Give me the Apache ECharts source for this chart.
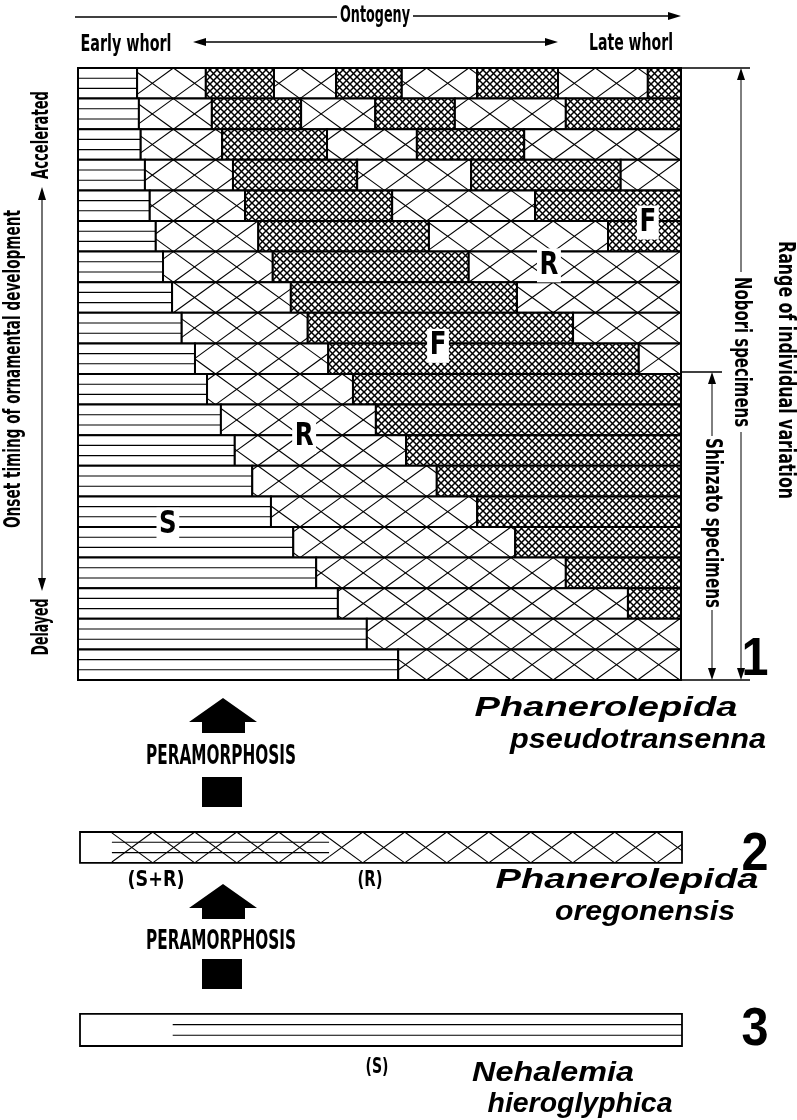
<!DOCTYPE html>
<html>
<head>
<meta charset="utf-8">
<script src="https://cdn.jsdelivr.net/npm/echarts@6/dist/echarts.min.js"></script>
<style>
html, body { margin: 0; padding: 0; background: #fff; }
#chart { width: 797px; height: 1120px; }
</style>
</head>
<body>
<div id="chart"></div>
<script>
// ontogeny runs 0 (early whorl) .. 100 (late whorl)
// each row: where the ornament changes. segments go S, R, F, R, F ...
const rowBreaks = [
    [9.8, 21.2, 32.5, 42.8, 53.7, 66.2, 79.6, 94.5],
    [10.1, 22.2, 37.0, 49.3, 62.5, 80.9],
    [10.4, 23.9, 41.3, 56.2, 74.0],
    [11.1, 25.7, 46.3, 65.2, 90.0],
    [11.9, 27.7, 52.1, 75.8],
    [12.9, 29.9, 58.2, 87.9],
    [14.1, 32.3, 64.8],
    [15.6, 35.3, 72.8],
    [17.2, 38.1, 82.1],
    [19.4, 41.5, 93.0],
    [21.4, 45.6],
    [23.7, 49.4],
    [26.0, 54.4],
    [28.9, 59.5],
    [32.0, 66.2],
    [35.7, 72.5],
    [39.5, 80.9],
    [43.1, 91.2],
    [47.9],
    [53.1]
];
const rowCount = 20;

// letters written over the stack
const letterText = ['F', 'R', 'F', 'R', 'S'];
const letterX = [94.5, 78.1, 59.7, 37.5, 14.9];
const letterY = [5.05, 6.45, 9.08, 12.06, 14.93];

// lower bars: 2 = P. oregonensis (?, S+R, R), 3 = N. hieroglyphica (?, S)
const bar2Breaks = [5.3, 41.4];
const bar3Breaks = [15.4];

const FONT = "'Liberation Sans Narrow','DejaVu Sans Condensed',sans-serif";
const BOLDF = "'Liberation Sans',Arial,sans-serif";

// S=0 R=1 F=2 blank=3 S+R=4 box=5
const mainData = [];
rowBreaks.forEach(function (br, r) {
    const edges = [0].concat(br, [100]);
    for (let i = 0; i < edges.length - 1; i++) {
        const t = i === 0 ? 0 : (i % 2 ? 1 : 2);
        mainData.push([edges[i], edges[i + 1], r, r + 1, t]);
    }
});

const lowData = [];
[[bar2Breaks, [3, 4, 1], 0, 1.01], [bar3Breaks, [3, 0], 5.95, 7]].forEach(function (b) {
    const edges = [0].concat(b[0], [100]);
    for (let i = 0; i < edges.length - 1; i++) {
        lowData.push([edges[i], edges[i + 1], b[2], b[3], b[1][i]]);
    }
    lowData.push([0, 100, b[2], b[3], 5]);
});

// dense crosshatch tile
const fTile = document.createElement('canvas');
fTile.width = 7; fTile.height = 7;
(function () {
    const c = fTile.getContext('2d');
    c.fillStyle = '#fff';
    c.fillRect(0, 0, 7, 7);
    c.strokeStyle = '#000';
    c.lineWidth = 1.5;
    [-7, 0, 7].forEach(function (o) {
        c.beginPath(); c.moveTo(o - 1, -1); c.lineTo(o + 8, 8); c.stroke();
        c.beginPath(); c.moveTo(o + 8, -1); c.lineTo(o - 1, 8); c.stroke();
    });
})();
const fPattern = {image: fTile, repeat: 'repeat'};

function ln(x1, y1, x2, y2, w) {
    return {type: 'line', shape: {x1: x1, y1: y1, x2: x2, y2: y2}, style: {stroke: '#000', lineWidth: w || 1}};
}

function lattice(kids, x0, x1, yT, yB, P, origin) {
    const h = yB - yT;
    let k = Math.floor((x0 - origin) / P) - 1;
    for (; origin + k * P < x1; k++) {
        const b = origin + k * P;
        const t0 = Math.max(0, (x0 - b) / P), t1 = Math.min(1, (x1 - b) / P);
        if (t1 <= t0) continue;
        kids.push(ln(b + P * t0, yB - h * t0, b + P * t1, yB - h * t1, 1.1));
        kids.push(ln(b + P * t0, yT + h * t0, b + P * t1, yT + h * t1, 1.1));
    }
}

function renderSeg(params, api) {
    const t = api.value(4);
    const p0 = api.coord([api.value(0), api.value(2)]);
    const p1 = api.coord([api.value(1), api.value(3)]);
    const x0 = p0[0], y0 = p0[1], x1 = p1[0], y1 = p1[1];
    const w = x1 - x0, h = y1 - y0;
    const main = params.seriesIndex === 0;
    const kids = [];
    if (t === 5) {
        kids.push({type: 'rect', shape: {x: x0, y: y0, width: w, height: h}, style: {fill: 'none', stroke: '#000', lineWidth: 1.8}});
        return {type: 'group', children: kids};
    }
    kids.push({type: 'rect', shape: {x: x0, y: y0, width: w, height: h}, style: {fill: t === 2 ? fPattern : '#fff'}});
    if (t === 0 || t === 4) {
        for (let k = 1; k <= 2; k++) {
            kids.push(ln(x0, y0 + h * k / 3, x1, y0 + h * k / 3, 1.1));
        }
    }
    if (t === 1 || t === 4) {
        lattice(kids, x0, x1, y0, y1, main ? 42.2 : 42, main ? 89 : 110.7);
    }
    if (main) {
        kids.push({type: 'rect', shape: {x: x0, y: y0, width: w, height: h}, style: {fill: 'none', stroke: '#000', lineWidth: 2}});
    }
    return {type: 'group', children: kids};
}

function renderLetter(params, api) {
    const p = api.coord([api.value(0), api.value(1)]);
    return {
        type: 'text', x: p[0], y: p[1], z2: 50, scaleX: 0.85,
        style: {
            text: letterText[params.dataIndex],
            font: "bold 32px 'DejaVu Sans Condensed',sans-serif",
            fill: '#000', align: 'center', verticalAlign: 'middle',
            backgroundColor: '#fff', padding: [1, 3]
        }
    };
}

// text squeezed to the width it has in the figure
const mctx = document.createElement('canvas').getContext('2d');
function fitText(str, cx, cy, width, size, opt) {
    opt = opt || {};
    const font = (opt.style || 'normal') + ' ' + (opt.weight || 'bold') + ' ' + size + 'px ' + (opt.family || FONT);
    mctx.font = font;
    const sx = width / mctx.measureText(str).width;
    return {
        type: 'text', x: cx, y: cy, rotation: opt.rot || 0, scaleX: sx, scaleY: 1,
        style: {text: str, font: font, fill: '#000', align: 'center', verticalAlign: 'middle',
                textAlign: 'center', textVerticalAlign: 'middle'}
    };
}

function head(tx, ty, ang, len, half) {
    const c = Math.cos(ang), s = Math.sin(ang);
    const bx = tx - c * len, by = ty - s * len;
    return {type: 'polygon', shape: {points: [[tx, ty], [bx - s * half, by + c * half], [bx + s * half, by - c * half]]},
            style: {fill: '#000'}};
}

function house(top) {
    return {type: 'polygon', shape: {points: [[223, top], [257, top + 24], [245, top + 24], [245, top + 35],
            [202, top + 35], [202, top + 24], [189, top + 24]]}, style: {fill: '#000'}};
}

const PI = Math.PI;
const NAME = {weight: 'bold', style: 'italic', family: BOLDF};
const graphics = [
    // ontogeny arrows
    ln(75, 17, 337, 17, 1.3), ln(413, 16, 670, 16, 1.3), head(681, 16, 0, 13, 4),
    fitText('Ontogeny', 375, 16, 70, 23),
    fitText('Early whorl', 126, 45, 91, 23),
    ln(200, 42, 550, 42, 1.3), head(193, 42, PI, 13, 4), head(558, 42, 0, 13, 4),
    fitText('Late whorl', 631, 44, 84, 23),
    // left
    fitText('Accelerated', 42, 135, 88, 23, {rot: PI / 2}),
    ln(42, 196, 42, 582, 1.1), head(42, 187, -PI / 2, 13, 4), head(42, 591, PI / 2, 13, 4),
    fitText('Onset timing of ornamental development', 14, 369, 318, 23, {rot: PI / 2}),
    fitText('Delayed', 42, 627, 57, 23, {rot: PI / 2}),
    // right
    ln(681, 68, 750, 68, 1.5), ln(681, 680, 750, 680, 1.5), ln(681, 372, 722, 372, 1.3),
    ln(741, 78, 741, 272, 1), ln(741, 432, 741, 670, 1), head(741, 68, -PI / 2, 12, 4), head(741, 680, PI / 2, 12, 4),
    fitText('Nobori specimens', 741, 352, 150, 23, {rot: -PI / 2}),
    ln(712, 382, 712, 436, 1), ln(712, 610, 712, 670, 1), head(712, 372, -PI / 2, 12, 4), head(712, 680, PI / 2, 12, 4),
    fitText('Shinzato specimens', 712, 523, 170, 23, {rot: -PI / 2}),
    fitText('Range of individual variation', 785, 370, 258, 23, {rot: -PI / 2}),
    // numbers and names
    fitText('1', 755, 660, 27, 54, {family: BOLDF}),
    fitText('Phanerolepida', 606, 708, 263, 28, NAME),
    fitText('pseudotransenna', 638, 740, 256, 28, NAME),
    fitText('2', 755, 855, 27, 54, {family: BOLDF}),
    fitText('Phanerolepida', 627, 880, 263, 28, NAME),
    fitText('oregonensis', 645, 912, 180, 28, NAME),
    fitText('3', 755, 1030, 27, 54, {family: BOLDF}),
    fitText('Nehalemia', 553, 1073, 162, 28, NAME),
    fitText('hieroglyphica', 580, 1104, 185, 28, NAME),
    // peramorphosis
    house(698), fitText('PERAMORPHOSIS', 221, 757, 150, 27),
    {type: 'rect', shape: {x: 202, y: 777, width: 40, height: 30}, style: {fill: '#000'}},
    house(884), fitText('PERAMORPHOSIS', 221, 942, 150, 27),
    {type: 'rect', shape: {x: 202, y: 959, width: 40, height: 30}, style: {fill: '#000'}},
    // lower bar notes
    fitText('?', 98, 847, 9, 21, {weight: 'normal'}),
    fitText('(S+R)', 156, 880, 57, 22),
    fitText('(R)', 370, 880, 25, 22),
    fitText('?', 127, 1033, 9, 21, {weight: 'normal'}),
    fitText('(S)', 377, 1067, 23, 22)
];

const chart = echarts.init(document.getElementById('chart'));
chart.setOption({
    animation: false,
    backgroundColor: '#fff',
    grid: [
        {left: 78, top: 68, width: 603, height: 612},
        {left: 80, top: 832, width: 602, height: 214}
    ],
    xAxis: [
        {type: 'value', min: 0, max: 100, show: false, gridIndex: 0},
        {type: 'value', min: 0, max: 100, show: false, gridIndex: 1}
    ],
    yAxis: [
        {type: 'value', min: 0, max: rowCount, inverse: true, show: false, gridIndex: 0},
        {type: 'value', min: 0, max: 7, inverse: true, show: false, gridIndex: 1}
    ],
    series: [
        {type: 'custom', renderItem: renderSeg, data: mainData, xAxisIndex: 0, yAxisIndex: 0,
         encode: {x: [0, 1], y: [2, 3]}, silent: true},
        {type: 'custom', renderItem: renderSeg, data: lowData, xAxisIndex: 1, yAxisIndex: 1,
         encode: {x: [0, 1], y: [2, 3]}, silent: true},
        {type: 'custom', renderItem: renderLetter, xAxisIndex: 0, yAxisIndex: 0, z: 5,
         data: letterX.map(function (x, i) { return [x, letterY[i]]; }), silent: true}
    ],
    graphic: {elements: graphics}
});
</script>
</body>
</html>
